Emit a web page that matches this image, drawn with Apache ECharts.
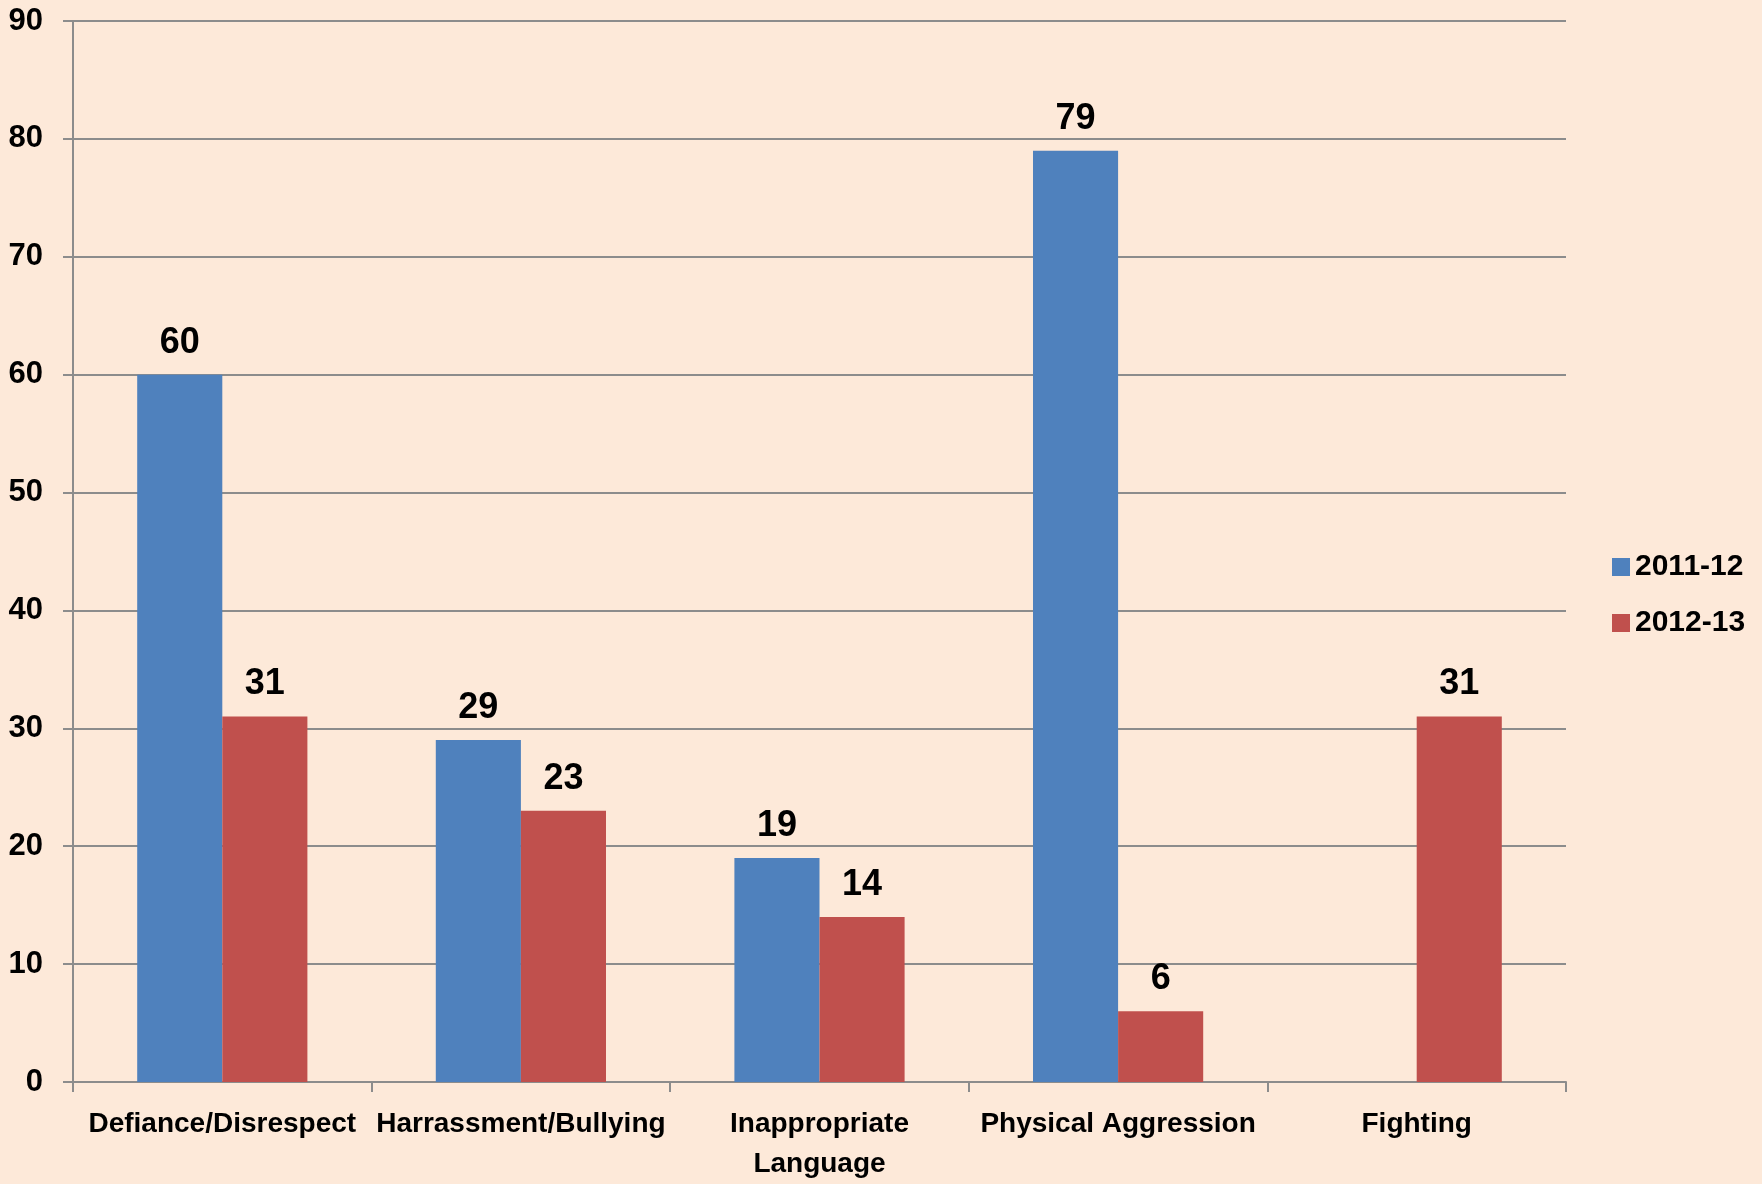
<!DOCTYPE html>
<html>
<head>
<meta charset="utf-8">
<script src="https://cdn.jsdelivr.net/npm/echarts@6/dist/echarts.min.js"></script>
<style>
html,body{margin:0;padding:0;background:#FDE9D9;}
#chart{width:1762px;height:1184px;}
</style>
</head>
<body>
<div id="chart"></div>
<script>
const categories = ['Defiance/Disrespect', 'Harrassment/Bullying', 'Inappropriate\nLanguage', 'Physical Aggression', 'Fighting'];
const seriesNames = ['2011-12', '2012-13'];
const values2011 = [60, 29, 19, 79, null];
const values2012 = [31, 23, 14, 6, 31];
const yTicks = { min: 0, max: 90, interval: 10 };

const FONT = '"Liberation Sans", Arial, sans-serif';
const chart = echarts.init(document.getElementById('chart'), null, { renderer: 'canvas' });
const labelStyle = {
  show: true, position: 'top', distance: 14,
  color: '#000', fontFamily: FONT, fontWeight: 'bold', fontSize: 36
};
chart.setOption({
  backgroundColor: '#FDE9D9',
  animation: false,
  grid: { left: 73, right: 196, top: 21, bottom: 96, containLabel: false },
  legend: {
    orient: 'vertical', left: 1607, top: 547,
    itemWidth: 18, itemHeight: 18, itemGap: 26,
    icon: 'rect',
    textStyle: { fontFamily: FONT, fontWeight: 'bold', fontSize: 30, color: '#000', lineHeight: 30 },
    data: seriesNames
  },
  xAxis: {
    type: 'category', data: categories,
    axisLine: { lineStyle: { color: '#8c8c8c', width: 2 } },
    axisTick: { show: true, length: 10, alignWithLabel: false, lineStyle: { color: '#8c8c8c', width: 2 } },
    axisLabel: { interval: 0, margin: 22, fontFamily: FONT, fontWeight: 'bold', fontSize: 28, color: '#000', lineHeight: 40 }
  },
  yAxis: {
    type: 'value', min: yTicks.min, max: yTicks.max, interval: yTicks.interval,
    axisLine: { show: true, lineStyle: { color: '#8c8c8c', width: 2 } },
    axisTick: { show: true, length: 10, lineStyle: { color: '#8c8c8c', width: 2 } },
    splitLine: { show: true, lineStyle: { color: '#8c8c8c', width: 2 } },
    axisLabel: { margin: 30, fontFamily: FONT, fontWeight: 'bold', fontSize: 31, color: '#000' }
  },
  series: [
    { name: seriesNames[0], type: 'bar', data: values2011, barGap: '0%', barCategoryGap: '43%',
      itemStyle: { color: '#4F81BD' }, label: labelStyle },
    { name: seriesNames[1], type: 'bar', data: values2012, barGap: '0%', barCategoryGap: '43%',
      itemStyle: { color: '#C0504D' }, label: labelStyle }
  ]
});
</script>
</body>
</html>
